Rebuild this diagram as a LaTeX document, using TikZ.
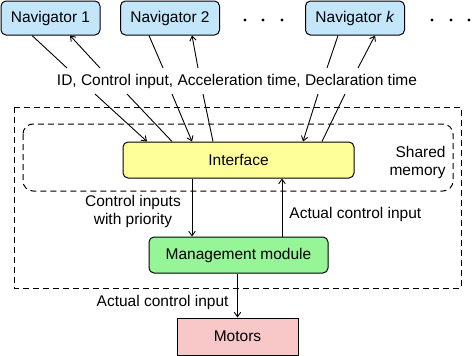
\documentclass[tikz,border=0pt]{standalone}
\usepackage{fontspec}
\setmainfont{Liberation Sans}
\usetikzlibrary{arrows.meta}
\definecolor{navblue}{RGB}{196,230,250}
\definecolor{ifyellow}{RGB}{255,255,153}
\definecolor{mmgreen}{RGB}{150,245,150}
\definecolor{motpink}{RGB}{248,200,200}

\begin{document}
\begin{tikzpicture}[x=1pt, y=-1pt, line width=0.9pt,
	every node/.style={font=\fontsize{15.5}{18}\selectfont, inner sep=0pt},
	>={Straight Barb[length=4.5pt, width=6.5pt]},
	box/.style={draw, rounded corners=5pt, minimum height=34, line width=1pt},
	navbox/.style={box, fill=navblue, minimum width=99},
	region/.style={dash pattern=on 6pt off 4pt, line width=1pt}]
	\useasboundingbox (0,0) rectangle (472,356);
	% navigators
	\node[navbox] (nav1) at (50.5,18) {Navigator 1};
	\node[navbox] (nav2) at (170,18) {Navigator 2};
	\node[navbox] (navk) at (355,18) {Navigator \textit{k}};
	\foreach \x in {245,263,282,432,451,469}
		\fill (\x,20) circle (1.7);
	% shared memory and management region
	\draw[region] (14,107) rectangle (461,288);
	\draw[region, rounded corners=10pt] (23,124) rectangle (453,191);
	\node[anchor=east, align=right] (shm) at (446,162) {Shared\\memory};
	\node[box, fill=ifyellow, minimum width=231, minimum height=36] (iface) at (238.5,160) {Interface};
	\node[box, fill=mmgreen, minimum width=179, minimum height=36] (mgmt) at (238.5,255) {Management module};
	\node[draw, fill=motpink, minimum width=121, minimum height=37, line width=1pt] (motors) at (237.5,336.5) {Motors};
	% exchanged data
	\node (info) at (237,81) {ID, Control input, Acceleration time, Declaration time};
	\coordinate (t1) at (67,68);  \coordinate (t2) at (100,68);
	\coordinate (t3) at (163,68); \coordinate (t4) at (198,68);
	\coordinate (t5) at (327,68); \coordinate (t6) at (358,68);
	\coordinate (b1) at (95,94);  \coordinate (b2) at (127,94);
	\coordinate (b3) at (172,94); \coordinate (b4) at (203,94);
	\coordinate (b5) at (318,94); \coordinate (b6) at (345,94);
	\draw ([xshift=-18.5]nav1.south) -- (t1);
	\draw[->] (b1) -- ([xshift=-91.5]iface.north);
	\draw ([xshift=-66.5]iface.north) -- (b2);
	\draw[->] (t2) -- ([xshift=19.5]nav1.south);
	\draw ([xshift=-21]nav2.south) -- (t3);
	\draw[->] (b3) -- ([xshift=-46.5]iface.north);
	\draw ([xshift=-25.5]iface.north) -- (b4);
	\draw[->] (t4) -- ([xshift=22]nav2.south);
	\draw ([xshift=-17]navk.south) -- (t5);
	\draw[->] (b5) -- ([xshift=64.5]iface.north);
	\draw ([xshift=83.5]iface.north) -- (b6);
	\draw[->] (t6) -- ([xshift=20]navk.south);
	% control flow
	\draw[->] ([xshift=-46.5]iface.south) -- ([xshift=-46.5]mgmt.north);
	\draw[->] ([xshift=43.5]mgmt.north) -- ([xshift=43.5]iface.south);
	\draw[->] (mgmt.south -| motors.north) -- (motors.north);
	\node[align=center] (prio) at (133,211) {Control inputs\\with priority};
	\node[anchor=west] (act1) at (289,214) {Actual control input};
	\node[anchor=east] (act2) at (229,302) {Actual control input};
\end{tikzpicture}
\end{document}
